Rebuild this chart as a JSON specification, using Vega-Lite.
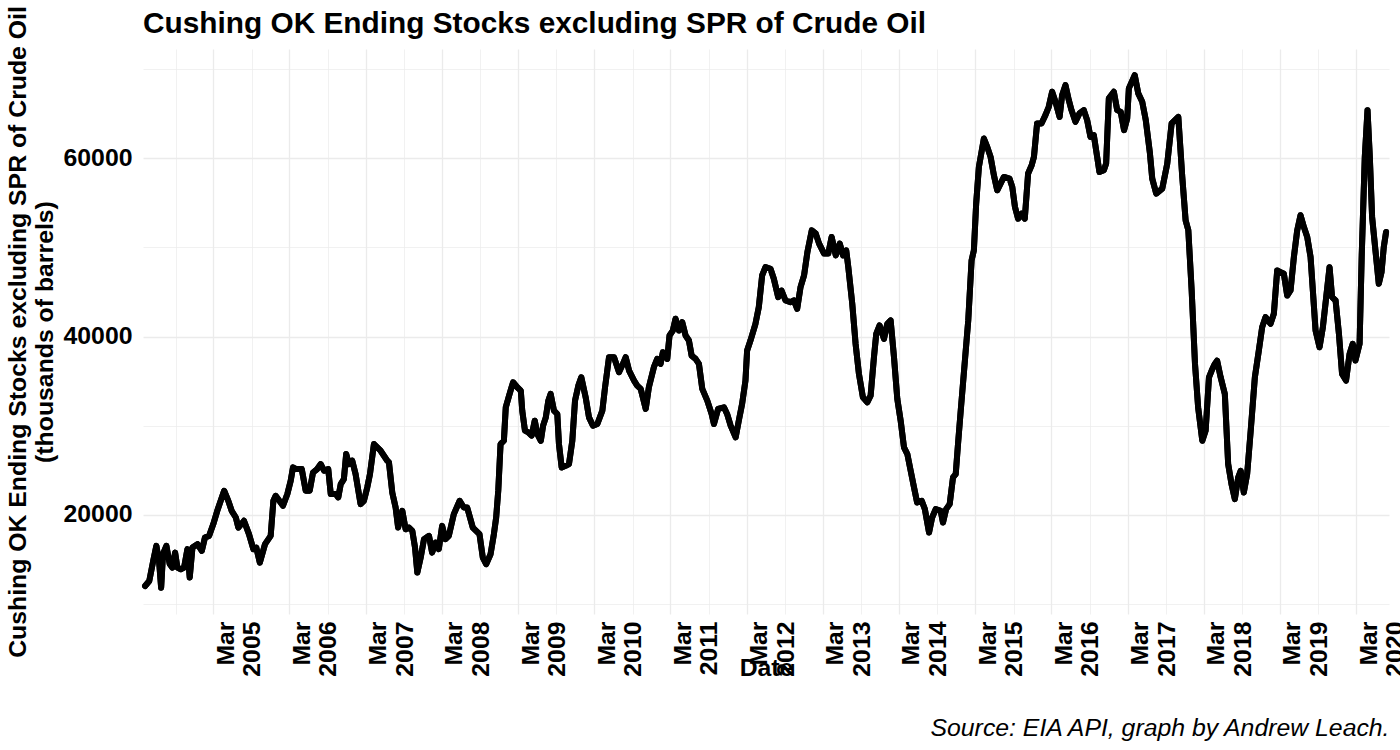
{
  "$schema": "https://vega.github.io/schema/vega-lite/v6.json",
  "background": "white",
  "padding": {"left": 5, "top": 5, "right": 10, "bottom": 5},
  "title": {
    "text": "Cushing OK Ending Stocks excluding SPR of Crude Oil",
    "anchor": "start",
    "frame": "group",
    "font": "Liberation Sans",
    "fontSize": 29.8,
    "fontWeight": "bold",
    "color": "black",
    "offset": -33
  },
  "width": 1246,
  "height": 565,
  "data": {
    "values": [
      {"date": "2004-04-08", "stocks": 12020},
      {"date": "2004-04-28", "stocks": 12580},
      {"date": "2004-05-17", "stocks": 14830},
      {"date": "2004-06-01", "stocks": 16520},
      {"date": "2004-06-14", "stocks": 14830},
      {"date": "2004-06-24", "stocks": 11830},
      {"date": "2004-07-03", "stocks": 15620},
      {"date": "2004-07-19", "stocks": 16520},
      {"date": "2004-08-04", "stocks": 14490},
      {"date": "2004-08-17", "stocks": 14080},
      {"date": "2004-08-30", "stocks": 15760},
      {"date": "2004-09-10", "stocks": 14080},
      {"date": "2004-09-26", "stocks": 13900},
      {"date": "2004-10-12", "stocks": 14080},
      {"date": "2004-10-28", "stocks": 16150},
      {"date": "2004-11-08", "stocks": 12960},
      {"date": "2004-11-21", "stocks": 16330},
      {"date": "2004-12-15", "stocks": 16710},
      {"date": "2005-01-05", "stocks": 15960},
      {"date": "2005-01-20", "stocks": 17450},
      {"date": "2005-02-09", "stocks": 17640},
      {"date": "2005-03-01", "stocks": 18960},
      {"date": "2005-03-20", "stocks": 20450},
      {"date": "2005-04-22", "stocks": 22700},
      {"date": "2005-05-12", "stocks": 21570},
      {"date": "2005-05-28", "stocks": 20450},
      {"date": "2005-06-17", "stocks": 19700},
      {"date": "2005-06-29", "stocks": 18570},
      {"date": "2005-07-26", "stocks": 19330},
      {"date": "2005-08-19", "stocks": 17830},
      {"date": "2005-09-09", "stocks": 16150},
      {"date": "2005-09-23", "stocks": 16330},
      {"date": "2005-10-10", "stocks": 14640},
      {"date": "2005-11-04", "stocks": 16710},
      {"date": "2005-12-01", "stocks": 17640},
      {"date": "2005-12-14", "stocks": 21570},
      {"date": "2005-12-25", "stocks": 22130},
      {"date": "2006-01-29", "stocks": 21010},
      {"date": "2006-02-19", "stocks": 22330},
      {"date": "2006-03-07", "stocks": 23820},
      {"date": "2006-03-18", "stocks": 25320},
      {"date": "2006-04-03", "stocks": 25130},
      {"date": "2006-04-29", "stocks": 25130},
      {"date": "2006-05-18", "stocks": 22700},
      {"date": "2006-06-06", "stocks": 22700},
      {"date": "2006-06-22", "stocks": 24750},
      {"date": "2006-07-12", "stocks": 25130},
      {"date": "2006-07-29", "stocks": 25690},
      {"date": "2006-08-14", "stocks": 24940},
      {"date": "2006-09-03", "stocks": 25130},
      {"date": "2006-09-15", "stocks": 22330},
      {"date": "2006-10-09", "stocks": 22330},
      {"date": "2006-10-21", "stocks": 21950},
      {"date": "2006-11-02", "stocks": 23450},
      {"date": "2006-11-17", "stocks": 24010},
      {"date": "2006-11-28", "stocks": 26820},
      {"date": "2006-12-11", "stocks": 25690},
      {"date": "2006-12-27", "stocks": 26070},
      {"date": "2007-01-12", "stocks": 24570},
      {"date": "2007-02-05", "stocks": 21200},
      {"date": "2007-02-21", "stocks": 21570},
      {"date": "2007-03-09", "stocks": 23070},
      {"date": "2007-03-22", "stocks": 24570},
      {"date": "2007-04-10", "stocks": 27940},
      {"date": "2007-04-26", "stocks": 27560},
      {"date": "2007-05-12", "stocks": 27190},
      {"date": "2007-05-28", "stocks": 26630},
      {"date": "2007-06-13", "stocks": 26070},
      {"date": "2007-06-21", "stocks": 25880},
      {"date": "2007-07-07", "stocks": 22500},
      {"date": "2007-07-23", "stocks": 20820},
      {"date": "2007-08-04", "stocks": 18570},
      {"date": "2007-08-24", "stocks": 20450},
      {"date": "2007-09-09", "stocks": 18390},
      {"date": "2007-09-25", "stocks": 18570},
      {"date": "2007-10-11", "stocks": 18200},
      {"date": "2007-10-24", "stocks": 16330},
      {"date": "2007-11-04", "stocks": 13520},
      {"date": "2007-11-20", "stocks": 15200},
      {"date": "2007-12-06", "stocks": 17270},
      {"date": "2007-12-30", "stocks": 17640},
      {"date": "2008-01-14", "stocks": 15760},
      {"date": "2008-01-31", "stocks": 16890},
      {"date": "2008-02-15", "stocks": 16150},
      {"date": "2008-03-02", "stocks": 18760},
      {"date": "2008-03-18", "stocks": 17270},
      {"date": "2008-04-03", "stocks": 17640},
      {"date": "2008-04-27", "stocks": 20080},
      {"date": "2008-05-25", "stocks": 21570},
      {"date": "2008-06-14", "stocks": 20820},
      {"date": "2008-06-30", "stocks": 20820},
      {"date": "2008-07-27", "stocks": 18570},
      {"date": "2008-08-12", "stocks": 18200},
      {"date": "2008-08-28", "stocks": 17830},
      {"date": "2008-09-13", "stocks": 15200},
      {"date": "2008-09-29", "stocks": 14460},
      {"date": "2008-10-20", "stocks": 15580},
      {"date": "2008-11-05", "stocks": 17830},
      {"date": "2008-11-16", "stocks": 19700},
      {"date": "2008-11-26", "stocks": 22700},
      {"date": "2008-12-07", "stocks": 27940},
      {"date": "2008-12-23", "stocks": 28310},
      {"date": "2009-01-01", "stocks": 32060},
      {"date": "2009-01-17", "stocks": 33370},
      {"date": "2009-02-05", "stocks": 34870},
      {"date": "2009-02-25", "stocks": 34310},
      {"date": "2009-03-14", "stocks": 33930},
      {"date": "2009-03-21", "stocks": 31690},
      {"date": "2009-04-03", "stocks": 29440},
      {"date": "2009-04-19", "stocks": 29250},
      {"date": "2009-05-05", "stocks": 28880},
      {"date": "2009-05-20", "stocks": 30560},
      {"date": "2009-06-01", "stocks": 29070},
      {"date": "2009-06-18", "stocks": 28310},
      {"date": "2009-06-29", "stocks": 30000},
      {"date": "2009-07-12", "stocks": 30930},
      {"date": "2009-07-24", "stocks": 32810},
      {"date": "2009-08-04", "stocks": 33560},
      {"date": "2009-08-20", "stocks": 31690},
      {"date": "2009-09-05", "stocks": 31310},
      {"date": "2009-09-13", "stocks": 27940},
      {"date": "2009-09-26", "stocks": 25320},
      {"date": "2009-10-15", "stocks": 25500},
      {"date": "2009-10-31", "stocks": 25690},
      {"date": "2009-11-16", "stocks": 28310},
      {"date": "2009-11-29", "stocks": 32810},
      {"date": "2009-12-15", "stocks": 34500},
      {"date": "2009-12-29", "stocks": 35430},
      {"date": "2010-01-19", "stocks": 33180},
      {"date": "2010-02-04", "stocks": 30930},
      {"date": "2010-02-23", "stocks": 30000},
      {"date": "2010-03-16", "stocks": 30190},
      {"date": "2010-04-09", "stocks": 31690},
      {"date": "2010-04-22", "stocks": 34310},
      {"date": "2010-05-11", "stocks": 37680},
      {"date": "2010-06-04", "stocks": 37680},
      {"date": "2010-06-28", "stocks": 36000},
      {"date": "2010-07-13", "stocks": 36740},
      {"date": "2010-07-30", "stocks": 37680},
      {"date": "2010-08-15", "stocks": 36180},
      {"date": "2010-09-08", "stocks": 35060},
      {"date": "2010-09-23", "stocks": 34500},
      {"date": "2010-10-10", "stocks": 34120},
      {"date": "2010-11-03", "stocks": 31880},
      {"date": "2010-11-18", "stocks": 34310},
      {"date": "2010-12-12", "stocks": 36560},
      {"date": "2010-12-28", "stocks": 37490},
      {"date": "2011-01-13", "stocks": 36930},
      {"date": "2011-01-24", "stocks": 38240},
      {"date": "2011-02-14", "stocks": 37490},
      {"date": "2011-02-25", "stocks": 40110},
      {"date": "2011-03-13", "stocks": 40670},
      {"date": "2011-03-26", "stocks": 41990},
      {"date": "2011-04-11", "stocks": 40670},
      {"date": "2011-04-27", "stocks": 41610},
      {"date": "2011-05-13", "stocks": 40110},
      {"date": "2011-05-29", "stocks": 39550},
      {"date": "2011-06-11", "stocks": 37860},
      {"date": "2011-06-30", "stocks": 37490},
      {"date": "2011-07-16", "stocks": 36930},
      {"date": "2011-08-01", "stocks": 34120},
      {"date": "2011-08-25", "stocks": 32810},
      {"date": "2011-09-15", "stocks": 31310},
      {"date": "2011-09-26", "stocks": 30190},
      {"date": "2011-10-16", "stocks": 31880},
      {"date": "2011-11-13", "stocks": 32060},
      {"date": "2011-11-28", "stocks": 31310},
      {"date": "2011-12-15", "stocks": 30000},
      {"date": "2012-01-08", "stocks": 28690},
      {"date": "2012-01-23", "stocks": 30560},
      {"date": "2012-02-08", "stocks": 32440},
      {"date": "2012-02-24", "stocks": 35060},
      {"date": "2012-03-03", "stocks": 38430},
      {"date": "2012-03-19", "stocks": 39550},
      {"date": "2012-04-12", "stocks": 41430},
      {"date": "2012-04-28", "stocks": 43300},
      {"date": "2012-05-14", "stocks": 46850},
      {"date": "2012-05-30", "stocks": 47780},
      {"date": "2012-06-23", "stocks": 47600},
      {"date": "2012-07-09", "stocks": 46480},
      {"date": "2012-07-30", "stocks": 44410},
      {"date": "2012-08-15", "stocks": 45160},
      {"date": "2012-09-03", "stocks": 44040},
      {"date": "2012-09-27", "stocks": 43850},
      {"date": "2012-10-13", "stocks": 44040},
      {"date": "2012-10-29", "stocks": 43110},
      {"date": "2012-11-14", "stocks": 45540},
      {"date": "2012-12-01", "stocks": 46850},
      {"date": "2012-12-17", "stocks": 49470},
      {"date": "2013-01-07", "stocks": 51910},
      {"date": "2013-01-26", "stocks": 51540},
      {"date": "2013-02-11", "stocks": 50420},
      {"date": "2013-03-07", "stocks": 49300},
      {"date": "2013-03-27", "stocks": 49300},
      {"date": "2013-04-12", "stocks": 51160},
      {"date": "2013-05-02", "stocks": 49100},
      {"date": "2013-05-21", "stocks": 50420},
      {"date": "2013-06-06", "stocks": 49100},
      {"date": "2013-06-21", "stocks": 49660},
      {"date": "2013-07-01", "stocks": 47780},
      {"date": "2013-07-20", "stocks": 43670},
      {"date": "2013-08-05", "stocks": 39180},
      {"date": "2013-08-21", "stocks": 35810},
      {"date": "2013-09-09", "stocks": 33180},
      {"date": "2013-09-30", "stocks": 32620},
      {"date": "2013-10-16", "stocks": 33370},
      {"date": "2013-11-01", "stocks": 37680},
      {"date": "2013-11-12", "stocks": 40300},
      {"date": "2013-11-28", "stocks": 41240},
      {"date": "2013-12-19", "stocks": 39740},
      {"date": "2014-01-04", "stocks": 41430},
      {"date": "2014-01-20", "stocks": 41800},
      {"date": "2014-02-05", "stocks": 37700},
      {"date": "2014-02-21", "stocks": 33000},
      {"date": "2014-03-09", "stocks": 30560},
      {"date": "2014-03-25", "stocks": 27560},
      {"date": "2014-04-10", "stocks": 26820},
      {"date": "2014-04-26", "stocks": 24940},
      {"date": "2014-05-12", "stocks": 23070},
      {"date": "2014-05-27", "stocks": 21380},
      {"date": "2014-06-18", "stocks": 21570},
      {"date": "2014-07-03", "stocks": 20640},
      {"date": "2014-07-23", "stocks": 18010},
      {"date": "2014-08-07", "stocks": 19700},
      {"date": "2014-08-24", "stocks": 20640},
      {"date": "2014-09-17", "stocks": 20450},
      {"date": "2014-09-28", "stocks": 19130},
      {"date": "2014-10-13", "stocks": 20640},
      {"date": "2014-10-30", "stocks": 21200},
      {"date": "2014-11-15", "stocks": 24190},
      {"date": "2014-11-28", "stocks": 24570},
      {"date": "2014-12-09", "stocks": 27940},
      {"date": "2014-12-22", "stocks": 31690},
      {"date": "2015-01-11", "stocks": 37300},
      {"date": "2015-01-27", "stocks": 41800},
      {"date": "2015-02-12", "stocks": 48540},
      {"date": "2015-02-23", "stocks": 49660},
      {"date": "2015-03-06", "stocks": 54900},
      {"date": "2015-03-19", "stocks": 59020},
      {"date": "2015-04-12", "stocks": 62210},
      {"date": "2015-04-28", "stocks": 61270},
      {"date": "2015-05-14", "stocks": 60150},
      {"date": "2015-05-30", "stocks": 58090},
      {"date": "2015-06-15", "stocks": 56400},
      {"date": "2015-07-01", "stocks": 57150},
      {"date": "2015-07-17", "stocks": 57900},
      {"date": "2015-08-13", "stocks": 57710},
      {"date": "2015-08-26", "stocks": 56780},
      {"date": "2015-09-08", "stocks": 54530},
      {"date": "2015-09-23", "stocks": 53220},
      {"date": "2015-10-10", "stocks": 53780},
      {"date": "2015-10-25", "stocks": 53220},
      {"date": "2015-11-10", "stocks": 58280},
      {"date": "2015-11-27", "stocks": 59210},
      {"date": "2015-12-08", "stocks": 60150},
      {"date": "2015-12-23", "stocks": 63900},
      {"date": "2016-01-13", "stocks": 63900},
      {"date": "2016-02-01", "stocks": 64830},
      {"date": "2016-02-17", "stocks": 65770},
      {"date": "2016-03-04", "stocks": 67450},
      {"date": "2016-03-20", "stocks": 66330},
      {"date": "2016-04-09", "stocks": 64640},
      {"date": "2016-04-21", "stocks": 67080},
      {"date": "2016-05-07", "stocks": 68200},
      {"date": "2016-05-23", "stocks": 66520},
      {"date": "2016-06-05", "stocks": 65390},
      {"date": "2016-06-24", "stocks": 64080},
      {"date": "2016-07-13", "stocks": 65020},
      {"date": "2016-08-03", "stocks": 65390},
      {"date": "2016-08-19", "stocks": 64270},
      {"date": "2016-09-04", "stocks": 62390},
      {"date": "2016-09-20", "stocks": 62580},
      {"date": "2016-10-06", "stocks": 60150},
      {"date": "2016-10-17", "stocks": 58460},
      {"date": "2016-11-07", "stocks": 58650},
      {"date": "2016-11-18", "stocks": 59400},
      {"date": "2016-12-01", "stocks": 66710},
      {"date": "2016-12-25", "stocks": 67450},
      {"date": "2017-01-10", "stocks": 65390},
      {"date": "2017-01-27", "stocks": 65200},
      {"date": "2017-02-12", "stocks": 63150},
      {"date": "2017-02-27", "stocks": 64460},
      {"date": "2017-03-07", "stocks": 67830},
      {"date": "2017-04-04", "stocks": 69320},
      {"date": "2017-04-21", "stocks": 67270},
      {"date": "2017-05-10", "stocks": 66330},
      {"date": "2017-05-27", "stocks": 64270},
      {"date": "2017-06-16", "stocks": 60530},
      {"date": "2017-06-27", "stocks": 57710},
      {"date": "2017-07-16", "stocks": 56030},
      {"date": "2017-08-14", "stocks": 56590},
      {"date": "2017-09-07", "stocks": 59400},
      {"date": "2017-09-28", "stocks": 63900},
      {"date": "2017-10-30", "stocks": 64640},
      {"date": "2017-11-18", "stocks": 57900},
      {"date": "2017-12-04", "stocks": 53030},
      {"date": "2017-12-17", "stocks": 51910},
      {"date": "2018-01-02", "stocks": 45170},
      {"date": "2018-01-18", "stocks": 36930},
      {"date": "2018-02-02", "stocks": 32060},
      {"date": "2018-02-22", "stocks": 28310},
      {"date": "2018-03-10", "stocks": 29440},
      {"date": "2018-03-26", "stocks": 35430},
      {"date": "2018-04-08", "stocks": 36180},
      {"date": "2018-04-23", "stocks": 36930},
      {"date": "2018-05-04", "stocks": 37300},
      {"date": "2018-05-21", "stocks": 35430},
      {"date": "2018-06-10", "stocks": 33560},
      {"date": "2018-06-26", "stocks": 25690},
      {"date": "2018-07-12", "stocks": 23450},
      {"date": "2018-07-28", "stocks": 21760},
      {"date": "2018-08-13", "stocks": 24190},
      {"date": "2018-08-25", "stocks": 24940},
      {"date": "2018-09-09", "stocks": 22510},
      {"date": "2018-09-25", "stocks": 24570},
      {"date": "2018-10-12", "stocks": 29440},
      {"date": "2018-11-01", "stocks": 35430},
      {"date": "2018-11-20", "stocks": 38430},
      {"date": "2018-12-06", "stocks": 41050},
      {"date": "2018-12-22", "stocks": 42170},
      {"date": "2019-01-15", "stocks": 41430},
      {"date": "2019-01-31", "stocks": 42550},
      {"date": "2019-02-16", "stocks": 47410},
      {"date": "2019-03-04", "stocks": 47220},
      {"date": "2019-03-20", "stocks": 47040},
      {"date": "2019-04-05", "stocks": 44600},
      {"date": "2019-04-21", "stocks": 45170},
      {"date": "2019-05-07", "stocks": 48910},
      {"date": "2019-05-23", "stocks": 51910},
      {"date": "2019-06-08", "stocks": 53600},
      {"date": "2019-06-24", "stocks": 52280},
      {"date": "2019-07-10", "stocks": 51160},
      {"date": "2019-07-26", "stocks": 48910},
      {"date": "2019-08-06", "stocks": 45170},
      {"date": "2019-08-19", "stocks": 40670},
      {"date": "2019-09-07", "stocks": 38800},
      {"date": "2019-09-23", "stocks": 41050},
      {"date": "2019-10-09", "stocks": 44420},
      {"date": "2019-10-25", "stocks": 47780},
      {"date": "2019-11-06", "stocks": 44420},
      {"date": "2019-11-23", "stocks": 44040},
      {"date": "2019-12-09", "stocks": 40300},
      {"date": "2019-12-24", "stocks": 35810},
      {"date": "2020-01-12", "stocks": 35060},
      {"date": "2020-01-29", "stocks": 38060},
      {"date": "2020-02-13", "stocks": 39180},
      {"date": "2020-02-26", "stocks": 37300},
      {"date": "2020-03-17", "stocks": 39180},
      {"date": "2020-03-27", "stocks": 48910},
      {"date": "2020-04-11", "stocks": 60150},
      {"date": "2020-04-24", "stocks": 65390},
      {"date": "2020-05-05", "stocks": 60150},
      {"date": "2020-05-16", "stocks": 53410},
      {"date": "2020-06-01", "stocks": 49660},
      {"date": "2020-06-17", "stocks": 45920},
      {"date": "2020-06-30", "stocks": 47190},
      {"date": "2020-07-11", "stocks": 50040},
      {"date": "2020-07-22", "stocks": 51720}
    ]
  },
  "encoding": {
    "y": {
      "field": "stocks",
      "type": "quantitative",
      "scale": {"domain": [8876, 72250], "nice": false, "zero": false},
      "axis": {
        "values": [10000, 20000, 30000, 40000, 50000, 60000, 70000],
        "format": "d",
        "labelExpr": "datum.value % 20000 == 0 ? datum.label : ''",
        "labelFont": "Liberation Sans",
        "labelFontSize": 24.8,
        "labelFontWeight": "bold",
        "labelColor": "black",
        "labelPadding": 11,
        "ticks": false,
        "domain": false,
        "gridColor": "#EBEBEB",
        "gridWidth": {"condition": {"test": "datum.value % 20000 == 0", "value": 1.3}, "value": 0.7},
        "title": ["Cushing OK Ending Stocks excluding SPR of Crude Oil", "(thousands of barrels)"],
        "titleFont": "Liberation Sans",
        "titleFontSize": 24.8,
        "titleFontWeight": "bold",
        "titleColor": "black",
        "titleLineHeight": 27,
        "titlePadding": 6
      }
    }
  },
  "layer": [
    {
      "mark": {"type": "line", "color": "black", "strokeWidth": 6, "strokeJoin": "round", "strokeCap": "round"},
      "encoding": {
        "x": {
          "field": "date",
          "type": "temporal",
          "scale": {"type": "utc", "domain": [{"year": 2004, "month": 3, "date": 29, "utc": true}, {"year": 2020, "month": 8, "date": 5, "utc": true}], "nice": false},
          "axis": {
            "orient": "bottom",
            "values": [
              {"year": 2004, "month": 9, "date": 1, "utc": true},
              {"year": 2005, "month": 3, "date": 1, "utc": true},
              {"year": 2005, "month": 9, "date": 1, "utc": true},
              {"year": 2006, "month": 3, "date": 1, "utc": true},
              {"year": 2006, "month": 9, "date": 1, "utc": true},
              {"year": 2007, "month": 3, "date": 1, "utc": true},
              {"year": 2007, "month": 9, "date": 1, "utc": true},
              {"year": 2008, "month": 3, "date": 1, "utc": true},
              {"year": 2008, "month": 9, "date": 1, "utc": true},
              {"year": 2009, "month": 3, "date": 1, "utc": true},
              {"year": 2009, "month": 9, "date": 1, "utc": true},
              {"year": 2010, "month": 3, "date": 1, "utc": true},
              {"year": 2010, "month": 9, "date": 1, "utc": true},
              {"year": 2011, "month": 3, "date": 1, "utc": true},
              {"year": 2011, "month": 9, "date": 1, "utc": true},
              {"year": 2012, "month": 3, "date": 1, "utc": true},
              {"year": 2012, "month": 9, "date": 1, "utc": true},
              {"year": 2013, "month": 3, "date": 1, "utc": true},
              {"year": 2013, "month": 9, "date": 1, "utc": true},
              {"year": 2014, "month": 3, "date": 1, "utc": true},
              {"year": 2014, "month": 9, "date": 1, "utc": true},
              {"year": 2015, "month": 3, "date": 1, "utc": true},
              {"year": 2015, "month": 9, "date": 1, "utc": true},
              {"year": 2016, "month": 3, "date": 1, "utc": true},
              {"year": 2016, "month": 9, "date": 1, "utc": true},
              {"year": 2017, "month": 3, "date": 1, "utc": true},
              {"year": 2017, "month": 9, "date": 1, "utc": true},
              {"year": 2018, "month": 3, "date": 1, "utc": true},
              {"year": 2018, "month": 9, "date": 1, "utc": true},
              {"year": 2019, "month": 3, "date": 1, "utc": true},
              {"year": 2019, "month": 9, "date": 1, "utc": true},
              {"year": 2020, "month": 3, "date": 1, "utc": true}
            ],
            "labelExpr": "utcmonth(datum.value) == 2 ? [utcFormat(datum.value, '%b'), utcFormat(datum.value, '%Y')] : ''",
            "labelAngle": -90,
            "labelAlign": "right",
            "labelBaseline": "top",
            "labelFont": "Liberation Sans",
            "labelFontSize": 24.8,
            "labelFontWeight": "bold",
            "labelColor": "black",
            "labelLineHeight": 26.5,
            "labelPadding": 7,
            "labelOverlap": false,
            "labelFlush": false,
            "labelBound": false,
            "ticks": false,
            "domain": false,
            "gridColor": "#EBEBEB",
            "gridWidth": {"condition": {"test": "utcmonth(datum.value) == 2", "value": 1.3}, "value": 0.7},
            "title": "Date",
            "titleFont": "Liberation Sans",
            "titleFontSize": 24.8,
            "titleFontWeight": "bold",
            "titleColor": "black",
            "titleBaseline": "alphabetic",
            "titleY": 61
          }
        }
      }
    },
    {
      "mark": {"type": "line", "color": "black", "strokeWidth": 6, "strokeJoin": "round", "strokeCap": "round"},
      "encoding": {
        "x": {
          "field": "date",
          "type": "temporal",
          "axis": {
            "orient": "bottom",
            "labels": false,
            "ticks": false,
            "domain": false,
            "grid": false,
            "title": "Source: EIA API, graph by Andrew Leach.",
            "titleAnchor": "end",
            "titleFont": "Liberation Sans",
            "titleFontSize": 24.8,
            "titleFontWeight": "normal",
            "titleFontStyle": "italic",
            "titleColor": "black",
            "titleBaseline": "alphabetic",
            "titleY": 121
          }
        }
      }
    }
  ],
  "resolve": {"axis": {"x": "independent"}},
  "config": {"view": {"stroke": null}}
}
